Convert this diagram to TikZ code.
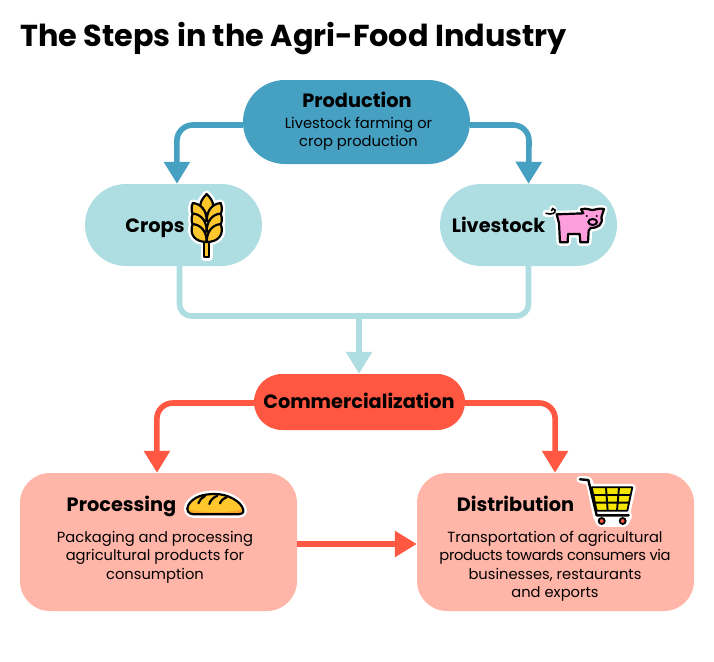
\documentclass[tikz,border=0pt]{standalone}
\usepackage{fontspec}
\setmainfont{Poppins}
\usetikzlibrary{arrows.meta,calc}
\definecolor{cblue}{HTML}{45A0C2}
\definecolor{clight}{HTML}{AEDDE2}
\definecolor{cred}{HTML}{FF5741}
\definecolor{cpeach}{HTML}{FFB5A7}
\definecolor{cwheat}{HTML}{FFC72C}
\definecolor{cpig}{HTML}{FF9EDD}
\definecolor{ccart}{HTML}{F6E600}
\definecolor{ccrust}{HTML}{F9A825}
\tikzset{
  pill/.style={draw=none,inner sep=0pt,rectangle},
  head/.style={font=\fontsize{19.3}{24}\selectfont\bfseries,text=black,inner sep=0pt,anchor=base},
  body/.style={font=\fontsize{14.7}{18.5}\selectfont,text=black,align=center,inner sep=0pt},
  link/.style={line width=5.6pt,rounded corners=16pt,-{Triangle[length=22pt,width=25pt]}},
  plain/.style={line width=5.6pt,rounded corners=12pt},
  halo/.style={draw=white,line width=7pt,line join=round,line cap=round},
  ink/.style={draw=black,line width=2.2pt,line join=round,line cap=round},
}
\newcommand{\grainL}{(0,0) .. controls (-11,0) and (-18,-7) .. (-14,-18) .. controls (-5,-17) and (0,-10) .. (0,0) -- cycle}
\newcommand{\grainR}{(0,0) .. controls (11,0) and (18,-7) .. (14,-18) .. controls (5,-17) and (0,-10) .. (0,0) -- cycle}
\newcommand{\grainT}{(0,0) .. controls (-9,-5) and (-8,-12) .. (0,-20) .. controls (8,-12) and (9,-5) .. (0,0) -- cycle}
\begin{document}
\begin{tikzpicture}[x=1pt,y=-1pt]
\useasboundingbox (0,0) rectangle (714,661);
% title
\node[anchor=base west,inner sep=0pt,font=\fontsize{30.3}{36}\selectfont\bfseries] (title) at (20,46) {The Steps in the Agri-Food Industry};
% boxes
\node[pill,fill=cblue,rounded corners=42pt,minimum width=227pt,minimum height=84pt] (prod) at (356.5,122) {};
\node[pill,fill=clight,rounded corners=41pt,minimum width=177pt,minimum height=82pt] (crops) at (173.5,225) {};
\node[pill,fill=clight,rounded corners=41pt,minimum width=177pt,minimum height=82pt] (live) at (528.5,225) {};
\node[pill,fill=cred,rounded corners=28pt,minimum width=211pt,minimum height=56pt] (comm) at (359.5,402) {};
\node[pill,fill=cpeach,rounded corners=30pt,minimum width=277pt,minimum height=138pt] (proc) at (158.5,542) {};
\node[pill,fill=cpeach,rounded corners=30pt,minimum width=277pt,minimum height=138pt] (dist) at (555.5,542) {};
% connectors
\draw[link,draw=cblue] ([yshift=-3pt]prod.west) -- ++(-66,0) -- ([xshift=3.5pt]crops.north);
\draw[link,draw=cblue] ([yshift=-3pt]prod.east) -- ++(59,0) -- (live.north);
\coordinate (merge) at (359,316);
\draw[plain,draw=clight] ([xshift=6pt]crops.south) -- ([xshift=6pt]crops.south |- merge) -- (live.south |- merge) -- (live.south);
\draw[link,draw=clight] (merge) -- (comm.north -| merge);
\draw[link,draw=cred] ([yshift=-1pt]comm.west) -- ++(-97,0) -- ([xshift=-1.5pt]proc.north);
\draw[link,draw=cred] ([yshift=-1pt]comm.east) -- ++(90,0) -- ([xshift=-.5pt]dist.north);
\draw[link,rounded corners=0pt,draw=cred] ([yshift=-2pt]proc.east) -- ([yshift=-2pt]dist.west);
% texts
\node[head] (t1) at (357,107) {Production};
\node[body] (t2) at (358.5,134) {Livestock farming or\\crop production};
\node[head] (t3) at (155,232) {Crops};
\node[head] (t4) at (498.5,232) {Livestock};
\node[head] (t5) at (359,408) {Commercialization};
\node[head] (t6) at (121.5,511) {Processing};
\node[head] (t7) at (515.5,511) {Distribution};
\node[body] (t8) at (155,557) {Packaging and processing\\agricultural products for\\consumption};
\node[body] (t9) at (555,566.5) {Transportation of agricultural\\{\addfontfeature{LetterSpace=-2.8}products towards consumers via}\\businesses, restaurants\\and exports};
% wheat
\begin{scope}[shift={(206.7,0)}]
  \foreach \st/\fl in {halo/white,ink/cwheat}{
    \path[\st,fill=\fl] (-2.5,225) rectangle (2.5,257);
    \path[\st,fill=\fl] [shift={(0,214)}] \grainT;
    \foreach \yy in {221,231.5,242}{
      \path[\st,fill=\fl] [shift={(0,\yy)}] \grainL;
      \path[\st,fill=\fl] [shift={(0,\yy)}] \grainR;
    }
  }
\end{scope}
% pig
\begin{scope}[shift={(440,180)},scale=1/3]
  \def\pigpath{(350,103) -- (430,100) -- (423,88) .. controls (440,83) and (450,90) .. (456,90) .. controls (465,90) and (478,83) .. (492,87) -- (484,112) .. controls (490,132) and (475,144) .. (452,144) -- (446,152) -- (444,187) -- (421,187) -- (419,162) -- (384,162) -- (383,187) -- (360,187) -- (357,130) -- cycle}
  \path[halo] (318,100) .. controls (335,105) and (345,95) .. (338,86);
  \path[halo,fill=white] \pigpath;
  \path[draw=black,line width=1.6pt,line cap=round] (318,100) .. controls (335,105) and (348,100) .. (345,90) .. controls (342,83) and (332,85) .. (335,92);
  \path[ink,fill=cpig] \pigpath;
  \path[draw=black,line width=2pt,fill=cpig] (458,126) ellipse [x radius=13,y radius=9];
  \fill (440,108) circle [radius=3.5];
  \fill (470,108) circle [radius=3.5];
\end{scope}
% bread
\begin{scope}[shift={(170,480)},scale=1/3]
  \def\breadpath{(72,103) .. controls (55,103) and (47,90) .. (55,75) .. controls (70,50) and (100,42) .. (135,42) .. controls (175,42) and (215,65) .. (220,90) .. controls (222,100) and (212,103) .. (205,103) -- cycle}
  \path[halo,fill=white] \breadpath;
  \path[fill=cwheat] \breadpath;
  \path[fill=ccrust] (58,88) .. controls (100,100) and (170,100) .. (216,88) .. controls (218,97) and (210,101) .. (205,101) -- (72,101) .. controls (64,101) and (58,95) .. (58,88) -- cycle;
  \path[ink] \breadpath;
  \path[ink] (85,70) .. controls (88,60) and (96,52) .. (105,48);
  \path[ink] (118,72) .. controls (120,62) and (130,52) .. (142,47);
  \path[ink] (150,70) .. controls (152,63) and (160,55) .. (170,52);
\end{scope}
% cart
\begin{scope}[shift={(570,470)},scale=1/3]
  \def\basket{(65,52) -- (187,52) -- (172,122) -- (80,122) -- cycle}
  \path[halo,fill=white] (30,28) -- (55,30) -- (65,52) -- (187,52) -- (172,122) -- (175,140) -- (165,160) -- (90,160) -- (80,140) -- (58,35) -- cycle;
  \path[draw=black,fill=ccart,line width=1.8pt,line join=round] \basket;
  \draw[black,line width=1.9pt] (108,52) -- (113,122) (147,52) -- (141,122) (69,75) -- (182,75) (74,98) -- (177,98);
  \draw[black,line width=2.4pt,line join=round,line cap=round] (30,28) -- (55,30) -- (80,136) -- (176,136);
  \path[draw=black,line width=1.8pt,fill=cred] (95,153) circle [radius=9];
  \path[draw=black,line width=1.8pt,fill=cred] (158,153) circle [radius=9];
\end{scope}
\end{tikzpicture}
\end{document}
